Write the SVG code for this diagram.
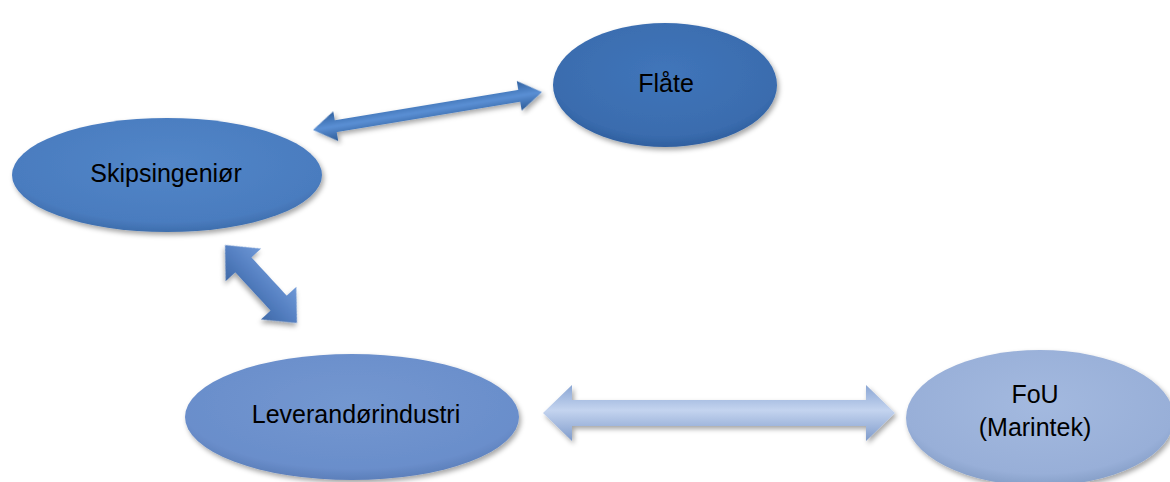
<svg xmlns="http://www.w3.org/2000/svg" width="1170" height="482" viewBox="0 0 1170 482">
<style>
.lbl{font-family:"Liberation Sans","Open Sans",sans-serif;font-size:25px;fill:#000;text-anchor:middle;dominant-baseline:central}
.ell{filter:url(#sh)}
</style>
<defs>
<filter id="sh" x="-10%" y="-10%" width="125%" height="130%">
<feDropShadow dx="2" dy="3" stdDeviation="2.5" flood-color="#000" flood-opacity="0.35"/>
</filter>
<radialGradient id="g1" cx="50%" cy="40%" r="60%">
<stop offset="0" stop-color="#4075ba"/><stop offset="0.85" stop-color="#3a6cae"/><stop offset="1" stop-color="#2f5f9f"/>
</radialGradient>
<radialGradient id="g2" cx="50%" cy="40%" r="60%">
<stop offset="0" stop-color="#5286c8"/><stop offset="0.85" stop-color="#4a7cbf"/><stop offset="1" stop-color="#3e6ead"/>
</radialGradient>
<radialGradient id="g3" cx="50%" cy="40%" r="60%">
<stop offset="0" stop-color="#7397d0"/><stop offset="0.85" stop-color="#6a8ecb"/><stop offset="1" stop-color="#5c7fba"/>
</radialGradient>
<radialGradient id="g4" cx="50%" cy="40%" r="60%">
<stop offset="0" stop-color="#a3b9df"/><stop offset="0.85" stop-color="#98afd8"/><stop offset="1" stop-color="#869fc8"/>
</radialGradient>
<linearGradient id="a1" x1="0" y1="0" x2="0" y2="1">
<stop offset="0" stop-color="#2f609f"/><stop offset="0.5" stop-color="#5a8fd4"/><stop offset="1" stop-color="#2c5a96"/>
</linearGradient>
<linearGradient id="a2" x1="0" y1="0" x2="0" y2="1">
<stop offset="0" stop-color="#6f98d6"/><stop offset="0.5" stop-color="#5580c2"/><stop offset="1" stop-color="#3f69a8"/>
</linearGradient>
<linearGradient id="a3" x1="0" y1="0" x2="0" y2="1">
<stop offset="0" stop-color="#8aa6d4"/><stop offset="0.45" stop-color="#c4d4ef"/><stop offset="1" stop-color="#7f9bcb"/>
</linearGradient>
</defs>
<g id="connectors">
<g transform="translate(427.5,111) rotate(-9.4)" filter="url(#sh)">
<polygon points="-116,0 -93,-15 -93,-6 93,-6 93,-15 116,0 93,15 93,6 -93,6 -93,15" fill="url(#a1)"/>
</g>
<g transform="translate(261,284) rotate(47.3)" filter="url(#sh)">
<polygon points="-53,0 -26,-24 -26,-11 26,-11 26,-24 53,0 26,24 26,11 -26,11 -26,24" fill="url(#a2)"/>
</g>
<g transform="translate(719,413)" filter="url(#sh)">
<polygon points="-176,0 -147,-28 -147,-13 147,-13 147,-28 176,0 147,28 147,13 -147,13 -147,28" fill="url(#a3)"/>
</g>
</g>
<g id="flate">
<ellipse class="ell" cx="665" cy="85" rx="112" ry="62" fill="url(#g1)"/>
<text class="lbl" x="666" y="83">Flåte</text>
</g>
<g id="skipsingenior">
<ellipse class="ell" cx="167" cy="175" rx="155" ry="57" fill="url(#g2)"/>
<text class="lbl" x="166" y="173">Skipsingeniør</text>
</g>
<g id="leverandorindustri">
<ellipse class="ell" cx="352" cy="417" rx="167" ry="63" fill="url(#g3)"/>
<text class="lbl" x="356" y="414">Leverandørindustri</text>
</g>
<g id="fou">
<ellipse class="ell" cx="1040" cy="418" rx="134" ry="68" fill="url(#g4)"/>
<text class="lbl" x="1035" y="394">FoU</text>
<text class="lbl" x="1035" y="427">(Marintek)</text>
</g>
</svg>
